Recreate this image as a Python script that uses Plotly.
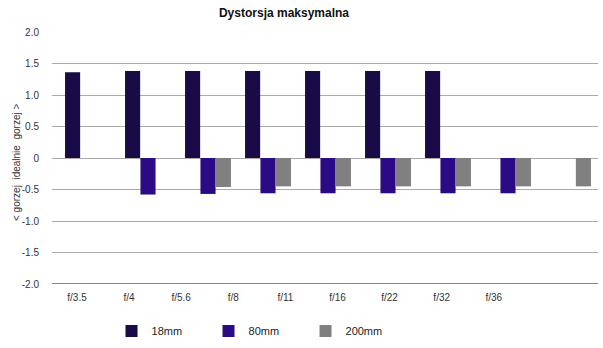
import plotly.graph_objects as go

categories = ["f/3.5", "f/4", "f/5.6", "f/8", "f/11", "f/16", "f/22", "f/32", "f/36"]
s18 = [1.36, 1.38, 1.38, 1.38, 1.38, 1.38, 1.38, None, None]
s80 = [None, -0.58, -0.57, -0.56, -0.56, -0.56, -0.56, -0.56, None]
s200 = [None, None, -0.46, -0.45, -0.45, -0.45, -0.45, -0.45, -0.45]
series_names = ["18mm", "80mm", "200mm"]
colors = ["#1a0a45", "#2a0a85", "#808080"]
ytick_vals = [2.0, 1.5, 1.0, 0.5, 0, -0.5, -1.0, -1.5, -2.0]
ytick_text = ["2.0", "1.5", "1.0", "0.5", "0", "-0.5", "-1.0", "-1.5", "-2.0"]
y_title = "< gorzej  idealnie  gorzej >"

W, H = 603, 348
ML, MR, MT, MB = 52, 5, 32, 64

idx = list(range(len(categories)))
fig = go.Figure()
for name, vals, c in zip(series_names, [s18, s80, s200], colors):
    fig.add_trace(go.Bar(x=idx, y=vals, name=name, marker=dict(color=c, line=dict(width=0))))

# invisible trace carrying the category labels axis
fig.add_trace(go.Scatter(x=idx, y=[0] * len(idx), xaxis="x2", mode="markers",
                         marker=dict(opacity=0), showlegend=False, hoverinfo="skip"))

font = dict(family="Liberation Sans, Arial, sans-serif", color="#222222")
fig.update_layout(
    width=W, height=H,
    margin=dict(l=ML, r=MR, t=MT, b=MB, autoexpand=False),
    paper_bgcolor="white", plot_bgcolor="white",
    font=dict(size=11, **font),
    barmode="group", bargap=0.23, bargroupgap=0.02,
    title=dict(text="<b>Dystorsja maksymalna</b>", x=284 / W, xanchor="center",
               y=1 - 13 / H, yanchor="middle", font=dict(size=12, color="#111111")),
    xaxis=dict(range=[-0.6, 8.5], showticklabels=False, showgrid=False, zeroline=False,
               showline=False, ticks=""),
    xaxis2=dict(overlaying="x", anchor="y", range=[-0.48, 10.0], tickmode="array",
                tickvals=idx, ticktext=categories, showgrid=False, zeroline=False,
                showline=False, ticks="", ticklabelstandoff=6,
                tickfont=dict(size=10, color="#333333")),
    yaxis=dict(range=[-2.0, 2.0], tickmode="array", tickvals=ytick_vals, ticktext=ytick_text,
               showgrid=True, gridcolor="#aaaaaa", gridwidth=1, zeroline=True,
               zerolinecolor="#aaaaaa", zerolinewidth=1, showline=False,
               ticks="", ticklabelstandoff=12, tickfont=dict(size=10, color="#333333")),
    legend=dict(orientation="h", x=0.109, xanchor="left", yref="container",
                y=1 - 331 / H, yanchor="middle",
                entrywidth=52, entrywidthmode="pixels", itemwidth=30,
                font=dict(size=11, color="#222222")),
    showlegend=True,
)
fig.add_annotation(text=y_title, xref="paper", yref="paper", x=-(ML - 17) / (W - ML - MR),
                   y=0.5 - 5 / (H - MT - MB), xanchor="center", yanchor="middle",
                   textangle=-90, showarrow=False, font=dict(size=10, color="#333333"))
# bottom axis line at -2.0
fig.add_shape(type="line", xref="x domain", yref="y", x0=0, x1=1, y0=-2.0, y1=-2.0,
              line=dict(color="#111111", width=1))

fig.write_html("out.html")
